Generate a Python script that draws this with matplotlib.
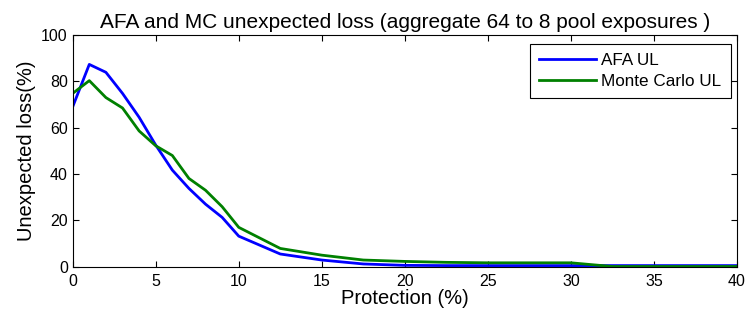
import numpy as np
import matplotlib
matplotlib.use('Agg')
import matplotlib.pyplot as plt

plt.rcParams['font.family'] = ['Liberation Sans', 'DejaVu Sans']

# protection levels (%)
protection = [0, 1, 2, 3, 4, 5, 6, 7, 8, 9, 10, 12.5, 15, 17.5, 20, 22.5, 25, 27.5, 30, 32.5, 35, 37.5, 40]

afa_ul = [69.0, 87.3, 83.9, 74.8, 64.5, 52.5, 41.7, 33.8, 27.0, 21.3, 13.2, 5.5,
          2.9, 1.2, 0.6, 0.5, 0.5, 0.5, 0.5, 0.5, 0.5, 0.5, 0.5]
mc_ul = [74.8, 80.3, 73.0, 68.5, 58.6, 52.2, 48.0, 38.1, 33.0, 25.9, 17.0, 7.9,
         5.0, 2.9, 2.3, 1.9, 1.7, 1.7, 1.7, 0.1, 0.1, 0.1, 0.1]

fig = plt.figure(figsize=(7.47, 3.21), dpi=100)
ax = fig.add_axes([0.0973, 0.169, 0.8893, 0.722])

ax.plot(protection, afa_ul, color='#0000ff', linewidth=2, label='AFA UL')
ax.plot(protection, mc_ul, color='#008000', linewidth=2, label='Monte Carlo UL')

ax.set_xlim(0, 40)
ax.set_ylim(0, 100)
ax.set_xticks(np.arange(0, 41, 5))
ax.set_yticks(np.arange(0, 101, 20))
ax.tick_params(direction='in', top=True, right=True, labelsize=11.5, length=4, width=0.8)
ax.tick_params(axis='x', pad=5)
for s in ax.spines.values():
    s.set_linewidth(0.8)

ax.set_xlabel('Protection (%)', fontsize=14.5, labelpad=0)
ax.set_ylabel('Unexpected loss(%)', fontsize=14.5, labelpad=4)
ax.set_title('AFA and MC unexpected loss (aggregate 64 to 8 pool exposures )', fontsize=15, pad=5)

leg = ax.legend(loc='upper right', bbox_to_anchor=(0.991, 0.961), borderaxespad=0,
                fontsize=12.3, fancybox=False, framealpha=1, edgecolor='black',
                handlelength=3.3, handletextpad=0.35, borderpad=0.55, labelspacing=0.3)
leg.get_frame().set_linewidth(0.8)

fig.savefig('out.png', dpi=100)
